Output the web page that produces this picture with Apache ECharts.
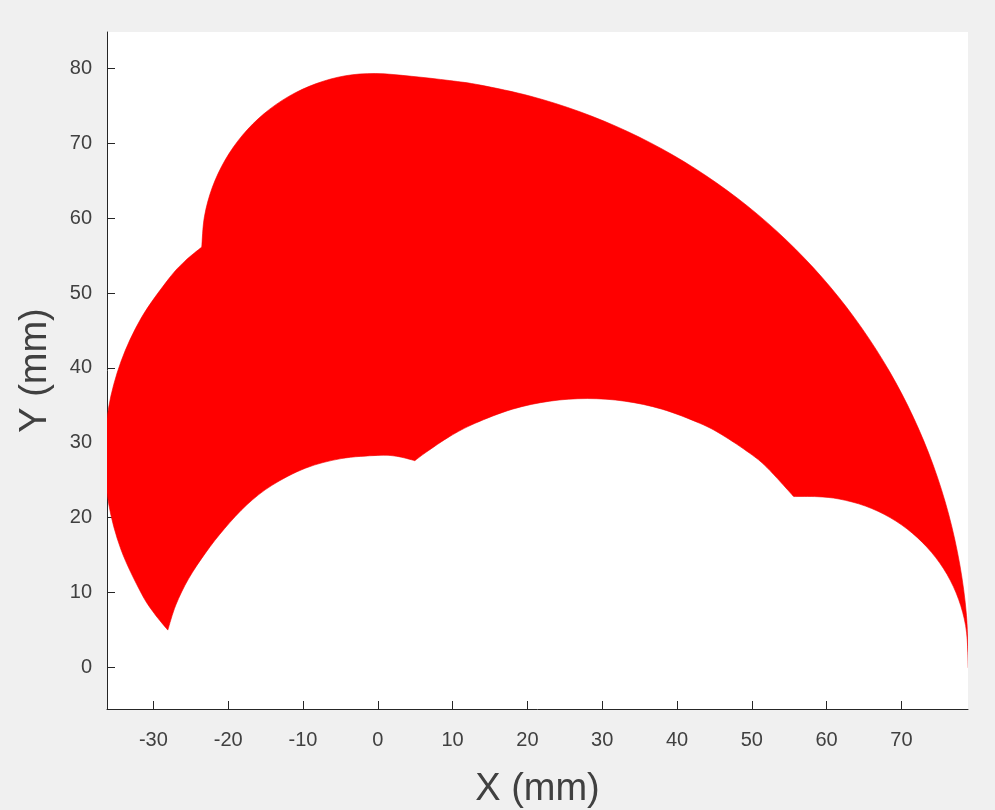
<!DOCTYPE html>
<html>
<head>
<meta charset="utf-8">
<script src="https://cdn.jsdelivr.net/npm/echarts@6/dist/echarts.min.js"></script>
<style>html,body{margin:0;padding:0;background:#f0f0f0;}#c{width:995px;height:810px;}</style>
</head>
<body>
<div id="c"></div>
<script>
// Boundary of the reachable region, read off the picture as five arcs
// 1) outer-left arc: lower-left tip up to the cusp near (-23.5, 56)
const arc1X = [-28.07,-29.9,-31.63,-34.33,-35.99,-36.5,-35.99,-34.33,-31.63,-27.95,-25.79,-23.53];
const arc1Y = [4.95,7.2,9.9,15.71,21.9,28.28,34.66,40.85,46.66,51.9,54.27,56.15];
// 2) outer-top arc: cusp over the top down to the lower-right tip
const arc2X = [-23.53,-23.18,-22.13,-20.41,-18.09,-15.23,-11.91,-8.23,-4.32,-0.28,4.5,9.6,13.72,20.45,27.02,33.39,39.5,45.31,50.78,55.86,60.52,64.71,68.42,71.6,74.24,76.31,77.8,78.7,78.95];
const arc2Y = [56.15,60.19,64.1,67.78,71.1,73.96,76.29,78.0,79.05,79.35,78.98,78.41,77.8,76.31,74.24,71.6,68.42,64.71,60.52,55.86,50.78,45.31,39.5,33.39,27.02,20.45,13.72,6.89,-0.1];
// 3) inner-right arc: lower-right tip up to the kink near (55.6, 22.8)
const arc3X = [78.95,78.9,78.58,77.64,76.11,74.02,71.45,68.48,65.18,61.67,58.78,55.6];
const arc3Y = [-0.1,1.94,5.56,9.07,12.37,15.34,17.91,19.99,21.53,22.47,22.78,22.8];
// 4) inner-middle arc: kink near (55.6, 22.8) over to the kink near (5, 27.6)
const arc4X = [55.6,52,49.73,46,43.05,38,33,28,23,18,13,9.63,6.5,4.95];
const arc4Y = [22.8,26.7,28.58,31.06,32.59,34.48,35.55,35.9,35.55,34.48,32.59,30.84,28.75,27.6];
// 5) inner-left arc: kink near (5, 27.6) down to the lower-left tip
const arc5X = [4.95,2.47,0,-4.91,-9.68,-14.15,-17.5,-20.5,-23.0,-25.3,-27.0,-28.07];
const arc5Y = [27.6,28.19,28.3,27.87,26.59,24.3,21.7,18.5,15.3,11.8,8.3,4.95];
const xTicks = [-30,-20,-10,0,10,20,30,40,50,60,70];
const yTicks = [0,10,20,30,40,50,60,70,80];

const arcs = [[arc1X, arc1Y], [arc2X, arc2Y], [arc3X, arc3Y], [arc4X, arc4Y], [arc5X, arc5Y]];

// smooth each arc separately (Catmull-Rom -> cubic Bezier) so the cusps stay sharp
function buildPath(api) {
  let d = '';
  arcs.forEach(function (arc, k) {
    const pts = arc[0].map(function (x, i) { return api.coord([x, arc[1][i]]); });
    if (k === 0) d += 'M' + pts[0][0] + ' ' + pts[0][1];
    for (let i = 0; i < pts.length - 1; i++) {
      const p0 = pts[Math.max(i - 1, 0)], p1 = pts[i], p2 = pts[i + 1], p3 = pts[Math.min(i + 2, pts.length - 1)];
      const c1x = p1[0] + (p2[0] - p0[0]) / 6, c1y = p1[1] + (p2[1] - p0[1]) / 6;
      const c2x = p2[0] - (p3[0] - p1[0]) / 6, c2y = p2[1] - (p3[1] - p1[1]) / 6;
      d += ' C' + c1x + ' ' + c1y + ' ' + c2x + ' ' + c2y + ' ' + p2[0] + ' ' + p2[1];
    }
  });
  return d + ' Z';
}

const chart = echarts.init(document.getElementById('c'));
const axisCol = '#262626';
const textCol = '#404040';
chart.setOption({
  backgroundColor: '#f0f0f0',
  animation: false,
  grid: { left: 107, top: 32, right: 27, bottom: 101, show: true, backgroundColor: '#ffffff', borderWidth: 0, containLabel: false, outerBoundsMode: 'none' },
  xAxis: {
    type: 'value', min: -36.2, max: 78.9,
    name: 'X (mm)', nameLocation: 'middle', nameGap: 62,
    nameTextStyle: { fontFamily: 'Liberation Sans', fontSize: 38, color: textCol },
    axisLine: { show: true, onZero: false, lineStyle: { color: axisCol, width: 1 } },
    axisTick: { show: true, inside: true, length: 8, customValues: xTicks, lineStyle: { color: axisCol } },
    axisLabel: { customValues: xTicks, margin: 21, fontFamily: 'Liberation Sans', fontSize: 20, color: textCol },
    splitLine: { show: false }
  },
  yAxis: {
    type: 'value', min: -5.6, max: 84.9,
    name: 'Y (mm)', nameLocation: 'middle', nameGap: 52,
    nameTextStyle: { fontFamily: 'Liberation Sans', fontSize: 38, color: textCol },
    axisLine: { show: true, onZero: false, lineStyle: { color: axisCol, width: 1 } },
    axisTick: { show: true, inside: true, length: 8, customValues: yTicks, lineStyle: { color: axisCol } },
    axisLabel: { customValues: yTicks, margin: 15, fontFamily: 'Liberation Sans', fontSize: 20, color: textCol },
    splitLine: { show: false }
  },
  series: [{
    type: 'custom',
    coordinateSystem: 'cartesian2d',
    clip: true,
    data: [[0, 0]],
    renderItem: function (params, api) {
      return { type: 'path', shape: { pathData: buildPath(api) }, style: { fill: '#ff0000', stroke: '#f20000', lineWidth: 0.6 } };
    }
  }]
});
</script>
</body>
</html>
